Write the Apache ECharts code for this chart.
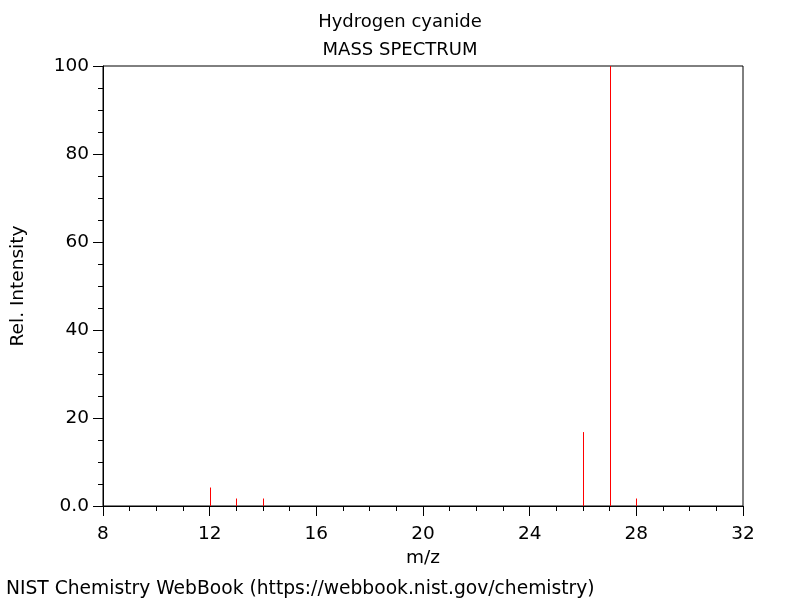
<!DOCTYPE html>
<html><head><meta charset="utf-8">
<script src="https://cdn.jsdelivr.net/npm/echarts@6/dist/echarts.min.js"></script>
<style>html,body{margin:0;padding:0;background:#fff}#c{width:800px;height:600px}</style>
</head><body><div id="c"></div>
<script>
const mz = [12, 13, 14, 26, 27, 28];
const intensity = [4.2, 1.7, 1.7, 16.8, 100, 1.7];
const xTicks = [8, 12, 16, 20, 24, 28, 32];
const yTicks = [0, 20, 40, 60, 80, 100];

const font = 'DejaVu Sans';
const fs = 18.5;
const chart = echarts.init(document.getElementById('c'));
chart.setOption({
  animation: false,
  backgroundColor: '#fff',
  title: [
    {text: 'Hydrogen cyanide', left: 'center', top: 13, padding: 0, textStyle: {fontFamily: font, fontSize: 18, fontWeight: 'normal', color: '#000'}},
    {text: 'MASS SPECTRUM', left: 'center', top: 41, padding: 0, textStyle: {fontFamily: font, fontSize: 18, fontWeight: 'normal', color: '#000'}},
    {text: 'NIST Chemistry WebBook (https://webbook.nist.gov/chemistry)', left: 6, top: 580, padding: 0, textStyle: {fontFamily: font, fontSize: 18.7, fontWeight: 'normal', color: '#000'}}
  ],
  grid: {left: 103, right: 57, top: 66, bottom: 94, containLabel: false, outerBoundsMode: 'none',
    show: true, borderColor: '#000', borderWidth: 1, backgroundColor: 'transparent'},
  xAxis: {
    type: 'value', min: xTicks[0], max: xTicks[xTicks.length - 1], interval: 4,
    name: 'm/z', nameLocation: 'middle', nameGap: 43,
    nameTextStyle: {fontFamily: font, fontSize: fs, color: '#000'},
    axisLine: {show: true, lineStyle: {color: '#000', width: 1}},
    axisTick: {show: true, length: 10, lineStyle: {color: '#000'}},
    minorTick: {show: true, splitNumber: 4, length: 5, lineStyle: {color: '#000'}},
    splitLine: {show: false},
    axisLabel: {fontFamily: font, fontSize: fs, color: '#000', margin: 19}
  },
  yAxis: {
    type: 'value', min: yTicks[0], max: yTicks[yTicks.length - 1], interval: 20,
    name: 'Rel. Intensity', nameLocation: 'middle', nameGap: 75,
    nameTextStyle: {fontFamily: font, fontSize: fs, color: '#000'},
    axisLine: {show: true, lineStyle: {color: '#000', width: 1}},
    axisTick: {show: true, length: 10, lineStyle: {color: '#000'}},
    minorTick: {show: true, splitNumber: 4, length: 5, lineStyle: {color: '#000'}},
    splitLine: {show: false},
    axisLabel: {fontFamily: font, fontSize: fs, color: '#000', margin: 14,
      formatter: v => v === 0 ? '0.0' : String(v)}
  },
  series: [{
    type: 'custom',
    silent: true,
    data: mz.map((m, i) => [m, intensity[i]]),
    encode: {x: 0, y: 1},
    renderItem: function (params, api) {
      const top = api.coord([api.value(0), api.value(1)]);
      const base = api.coord([api.value(0), 0]);
      const x = Math.round(top[0]) + 0.5;
      return {
        type: 'line',
        shape: {x1: x, y1: base[1], x2: x, y2: top[1]},
        style: {stroke: '#ff0000', lineWidth: 1}
      };
    }
  }]
});
</script></body></html>
